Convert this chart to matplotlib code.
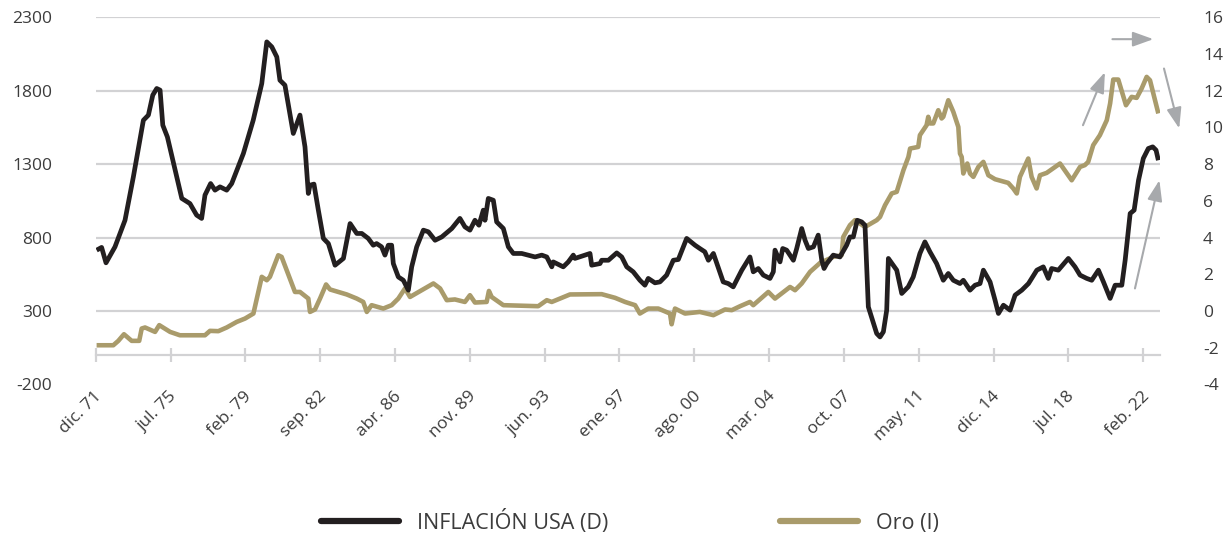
import matplotlib
matplotlib.use("Agg")
import matplotlib.pyplot as plt
from matplotlib.transforms import ScaledTranslation
from matplotlib.lines import Line2D

plt.rcParams['font.family'] = ['Open Sans', 'DejaVu Sans']

# ---------------- data ----------------
infl_years = [
    1971.96, 1972.20, 1972.41, 1972.84, 1973.32, 1973.72, 1974.20, 1974.44, 1974.65, 1974.84,
    1975.00, 1975.13, 1975.35, 1976.04, 1976.43, 1976.75, 1976.99, 1977.15, 1977.42, 1977.63,
    1977.87, 1978.19, 1978.43, 1978.99, 1979.46, 1979.87, 1980.11, 1980.35, 1980.59, 1980.74,
    1980.98, 1981.38, 1981.70, 1981.94, 1982.10, 1982.18, 1982.37, 1982.58, 1982.82, 1983.06,
    1983.38, 1983.78, 1984.10, 1984.42, 1984.66, 1984.97, 1985.21, 1985.37, 1985.61, 1985.77,
    1985.93, 1986.09, 1986.17, 1986.41, 1986.65, 1986.89, 1987.05, 1987.29, 1987.61, 1987.85,
    1988.17, 1988.49, 1988.97, 1989.36, 1989.60, 1989.84, 1990.08, 1990.27, 1990.48, 1990.56,
    1990.72, 1990.96, 1991.12, 1991.44, 1991.68, 1991.92, 1992.32, 1992.96, 1993.28, 1993.52,
    1993.76, 1993.83, 1994.31, 1994.55, 1994.79, 1994.87, 1995.35, 1995.59, 1995.67, 1996.07,
    1996.15, 1996.47, 1996.87, 1997.11, 1997.35, 1997.66, 1997.98, 1998.22, 1998.38, 1998.70,
    1998.94, 1999.26, 1999.58, 1999.82, 2000.22, 2000.62, 2000.85, 2001.09, 2001.26, 2001.50,
    2001.97, 2002.21, 2002.45, 2002.86, 2003.25, 2003.41, 2003.65, 2003.89, 2004.21, 2004.37,
    2004.45, 2004.69, 2004.82, 2005.01, 2005.33, 2005.49, 2005.73, 2005.89, 2006.05, 2006.29,
    2006.52, 2006.69, 2006.80, 2006.93, 2007.24, 2007.56, 2007.88, 2008.04, 2008.20, 2008.39,
    2008.60, 2008.76, 2008.92, 2009.32, 2009.48, 2009.64, 2009.80, 2009.88, 2010.28, 2010.52,
    2010.83, 2011.07, 2011.39, 2011.63, 2011.87, 2012.19, 2012.51, 2012.75, 2012.99, 2013.31,
    2013.47, 2013.79, 2014.03, 2014.27, 2014.43, 2014.75, 2014.99, 2015.15, 2015.39, 2015.71,
    2015.95, 2016.27, 2016.59, 2016.99, 2017.30, 2017.54, 2017.70, 2018.02, 2018.50, 2018.82,
    2019.06, 2019.38, 2019.62, 2019.94, 2020.18, 2020.50, 2020.74, 2021.06, 2021.22, 2021.46,
    2021.65, 2021.86, 2022.09, 2022.33, 2022.54, 2022.70, 2022.81,
]
infl_values = [
    3.31, 3.46, 2.62, 3.49, 4.94, 7.30, 10.39, 10.67, 11.76, 12.12,
    12.03, 10.12, 9.48, 6.13, 5.85, 5.22, 5.04, 6.31, 6.94, 6.58,
    6.76, 6.58, 6.94, 8.58, 10.39, 12.39, 14.66, 14.39, 13.84, 12.57,
    12.30, 9.67, 10.67, 8.94, 6.40, 6.85, 6.91, 5.49, 3.95, 3.67,
    2.49, 2.86, 4.76, 4.22, 4.22, 3.95, 3.58, 3.67, 3.49, 3.04,
    3.58, 3.58, 2.58, 1.85, 1.67, 1.13, 2.40, 3.49, 4.40, 4.31,
    3.85, 4.03, 4.49, 5.04, 4.58, 4.40, 4.94, 4.67, 5.49, 4.94,
    6.13, 6.03, 4.85, 4.49, 3.49, 3.13, 3.13, 2.94, 3.04, 2.94,
    2.40, 2.67, 2.40, 2.67, 3.04, 2.86, 3.04, 3.13, 2.49, 2.58,
    2.76, 2.76, 3.16, 2.94, 2.40, 2.13, 1.67, 1.40, 1.77, 1.53,
    1.58, 1.95, 2.76, 2.80, 3.95, 3.58, 3.40, 3.22, 2.76, 3.13,
    1.58, 1.49, 1.31, 2.22, 2.94, 2.13, 2.31, 1.95, 1.77, 2.13,
    3.31, 2.67, 3.40, 3.31, 2.76, 3.40, 4.49, 3.85, 3.40, 3.49,
    4.13, 2.76, 2.31, 2.58, 3.04, 2.94, 3.58, 4.03, 4.03, 4.94,
    4.85, 4.67, 0.22, -1.23, -1.42, -1.14, 0.04, 2.86, 2.22, 0.95,
    1.31, 1.85, 3.13, 3.76, 3.22, 2.58, 1.67, 2.04, 1.67, 1.49,
    1.67, 1.13, 1.40, 1.49, 2.22, 1.58, 0.58, -0.14, 0.31, 0.04,
    0.86, 1.13, 1.49, 2.22, 2.40, 1.77, 2.31, 2.22, 2.86, 2.40,
    1.95, 1.77, 1.67, 2.22, 1.58, 0.68, 1.40, 1.40, 2.76, 5.31,
    5.49, 7.12, 8.31, 8.85, 8.94, 8.76, 8.21,
]

gold_years = [
    1971.96, 1972.76, 1973.00, 1973.27, 1973.64, 1974.00, 1974.12, 1974.28, 1974.76, 1974.96,
    1975.48, 1975.95, 1977.15, 1977.39, 1977.79, 1978.19, 1978.67, 1979.07, 1979.47, 1979.87,
    1980.11, 1980.26, 1980.66, 1980.82, 1981.46, 1981.70, 1982.10, 1982.18, 1982.42, 1982.66,
    1982.95, 1983.14, 1983.94, 1984.42, 1984.73, 1984.90, 1985.13, 1985.69, 1986.09, 1986.41,
    1986.73, 1986.97, 1987.53, 1988.09, 1988.41, 1988.73, 1989.12, 1989.60, 1989.84, 1990.08,
    1990.64, 1990.75, 1990.88, 1991.44, 1993.11, 1993.52, 1993.76, 1994.63, 1996.15, 1996.79,
    1997.27, 1997.75, 1997.98, 1998.38, 1998.86, 1999.42, 1999.50, 1999.66, 2000.14, 2000.85,
    2001.50, 2002.06, 2002.38, 2002.78, 2003.25, 2003.41, 2004.13, 2004.45, 2005.17, 2005.41,
    2005.73, 2006.13, 2006.61, 2007.24, 2007.64, 2007.72, 2008.04, 2008.28, 2008.76, 2009.32,
    2009.48, 2009.72, 2010.04, 2010.28, 2010.60, 2010.84, 2010.92, 2011.31, 2011.39, 2011.71,
    2011.79, 2011.87, 2012.03, 2012.27, 2012.43, 2012.51, 2012.75, 2012.99, 2013.23, 2013.31,
    2013.39, 2013.47, 2013.66, 2013.79, 2013.95, 2014.19, 2014.43, 2014.67, 2014.99, 2015.62,
    2015.86, 2016.03, 2016.18, 2016.58, 2016.74, 2016.98, 2017.14, 2017.46, 2018.10, 2018.66,
    2019.06, 2019.29, 2019.45, 2019.69, 2020.01, 2020.34, 2020.50, 2020.65, 2020.89, 2021.26,
    2021.53, 2021.77, 2022.01, 2022.25, 2022.41, 2022.81,
]
gold_values = [
    66, 66, 96, 141, 96, 96, 180, 187, 157, 203,
    157, 134, 134, 164, 162, 187, 225, 248, 282, 532,
    509, 532, 679, 668, 429, 429, 384, 293, 310, 384,
    480, 446, 412, 384, 361, 293, 339, 316, 339, 384,
    453, 395, 441, 487, 453, 373, 378, 361, 407, 357,
    361, 436, 395, 339, 332, 373, 361, 412, 414, 389,
    361, 339, 282, 316, 316, 282, 209, 316, 282, 293,
    271, 310, 305, 332, 361, 339, 429, 384, 463, 441,
    487, 566, 627, 668, 679, 804, 884, 918, 872, 918,
    940, 1020, 1100, 1111, 1258, 1349, 1406, 1417, 1497, 1565,
    1622, 1577, 1577, 1667, 1611, 1622, 1735, 1656, 1553, 1372,
    1349, 1236, 1304, 1236, 1213, 1281, 1315, 1224, 1197, 1172,
    1134, 1100, 1213, 1338, 1213, 1134, 1224, 1240, 1304, 1190,
    1281, 1293, 1315, 1429, 1497, 1599, 1713, 1876, 1876, 1701,
    1758, 1751, 1815, 1894, 1871, 1645,
]

tick_labels = ["dic. 71", "jul. 75", "feb. 79", "sep. 82", "abr. 86", "nov. 89",
               "jun. 93", "ene. 97", "ago. 00", "mar. 04", "oct. 07", "may. 11",
               "dic. 14", "jul. 18", "feb. 22"]
left_ticks = [-200, 300, 800, 1300, 1800, 2300]
right_ticks = [-4, -2, 0, 2, 4, 6, 8, 10, 12, 14, 16]

series_names = ["INFLACIÓN USA (D)", "Oro (I)"]

# ---------------- style ----------------
BLACK = "#231F20"
GOLD = "#A99B6B"
GRID = "#D2D2D4"
ARROW = "#A7A9AC"
TEXT = "#3C3C3C"

fig = plt.figure(figsize=(12.28, 5.39), dpi=100)
ax = fig.add_axes([95.7 / 1228, 1 - 384.3 / 539, (1160 - 95.7) / 1228, (384.3 - 17.3) / 539])
ax2 = ax.twinx()

x0 = 1971.0 + 11 / 12.0
tick_pos = [x0 + k * 43 / 12.0 for k in range(len(tick_labels))]

ax.plot(gold_years, gold_values, color=GOLD, lw=3.3, solid_joinstyle="round",
        solid_capstyle="butt", zorder=3)
ax2.plot(infl_years, infl_values, color=BLACK, lw=3.4, solid_joinstyle="round",
         solid_capstyle="butt", zorder=3)

ax.set_xlim(x0, x0 + (1160 - 95.7) / 20.88)
ax.set_ylim(-200, 2300)
ax2.set_ylim(-4, 16)

ax.set_yticks(left_ticks)
ax.set_yticklabels([str(v) for v in left_ticks])
ax2.set_yticks(right_ticks)
ax2.set_yticklabels([str(v) for v in right_ticks])

ax.yaxis.grid(True, color=GRID, lw=1.6)
ax.set_axisbelow(True)
ax.yaxis.get_gridlines()[0].set_visible(False)

for a in (ax, ax2):
    for s in ("left", "right", "top"):
        a.spines[s].set_visible(False)
ax2.spines["bottom"].set_visible(False)
ax.spines["bottom"].set_position(("data", 0))
ax.spines["bottom"].set_color(GRID)
ax.spines["bottom"].set_linewidth(1.6)

ax.tick_params(axis="y", length=0, pad=31.5, labelsize=12.5, labelcolor=TEXT)
ax2.tick_params(axis="y", length=0, pad=31, labelsize=12.5, labelcolor=TEXT)

ax.set_xticks(tick_pos)
ax.set_xticklabels(tick_labels, rotation=45, ha="right", va="center",
                   rotation_mode="anchor")
ax.tick_params(axis="x", direction="inout", length=10, width=1.6, color=GRID,
               pad=23, labelsize=12.5, labelcolor=TEXT)
offset = ScaledTranslation(4 / 100, 0, fig.dpi_scale_trans)
for lbl in ax.get_xticklabels():
    lbl.set_transform(lbl.get_transform() + offset)

# arrows (annotations, in gold-axis data units)
arrow_props = dict(arrowstyle="-|>,head_length=1.25,head_width=0.45", color=ARROW,
                   lw=1.5, shrinkA=0, shrinkB=0, mutation_scale=10)
arrows = [((2019.20, 1565), (2020.25, 1926)),
          ((2020.61, 2151), (2022.57, 2151)),
          ((2023.08, 1951), (2023.81, 1543)),
          ((2021.69, 453), (2022.86, 1190))]
for (tail, head) in arrows:
    ax2.annotate("", xy=head, xytext=tail, xycoords=ax.transData,
                 textcoords=ax.transData, arrowprops=arrow_props,
                 annotation_clip=False)

# legend
handles = [Line2D([], [], color=BLACK, lw=4.5, solid_capstyle="round"),
           Line2D([], [], color=GOLD, lw=4.5, solid_capstyle="round")]
fig.legend(handles, series_names, loc="center", bbox_to_anchor=(630 / 1228, 17 / 539),
           ncol=2, frameon=False, fontsize=15.5, handlelength=3.6, handletextpad=0.85,
           columnspacing=8.0, labelcolor=TEXT)

fig.savefig("out.png", dpi=100)
